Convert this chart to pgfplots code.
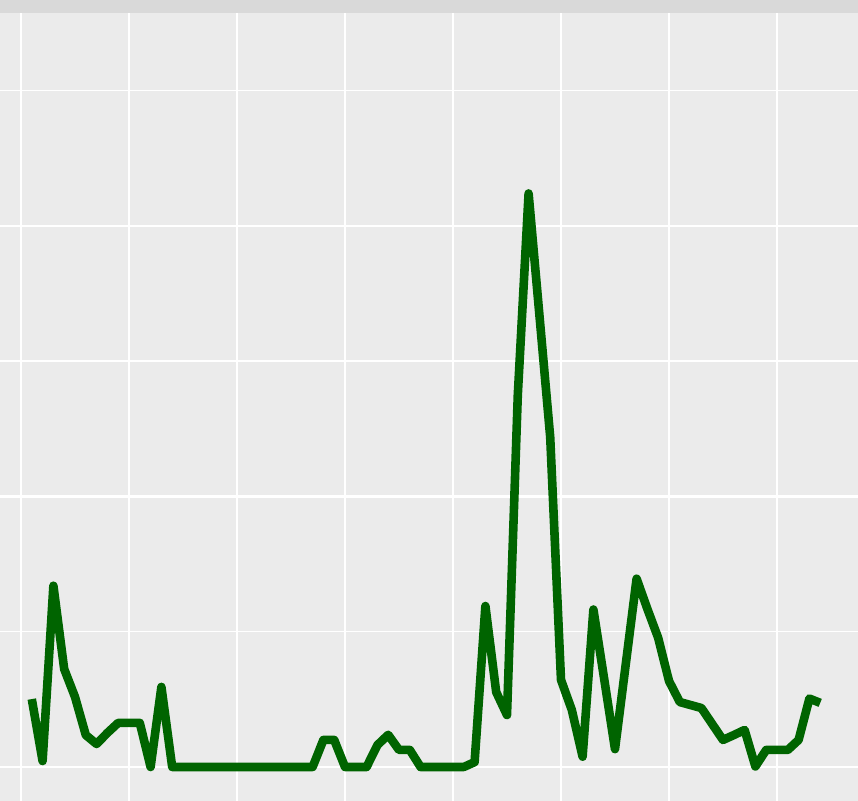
\documentclass[border=0pt]{standalone}
\usepackage{pgfplots}
\pgfplotsset{compat=1.18}
\definecolor{panelbg}{HTML}{EBEBEB}
\definecolor{stripbg}{HTML}{D9D9D9}
\definecolor{lineg}{HTML}{006400}
\begin{document}
\begin{tikzpicture}
\begin{axis}[
  scale only axis, width=429bp, height=394bp,
  xmin=-1.944, xmax=77.5, ymin=-12.57, ymax=278.7,
  axis background/.style={fill=panelbg},
  axis line style={draw=none},
  xtick={0,20,40,60}, minor xtick={10,30,50,70},
  ytick={0,100,200}, minor ytick={50,150,250},
  xticklabels={}, yticklabels={},
  major tick length=0pt, minor tick length=0pt,
  grid=both,
  major grid style={white, line width=1.4bp},
  minor grid style={white, line width=0.7bp},
]
\addplot[lineg, line width=4.3bp, line join=round, mark=none] coordinates {
(1,25.1) (2,2.2) (3,67.0) (4,36.2) (5,25.9) (6,11.8) (7,8.5) (8,12.6) (9,16.3) (10,16.3)
(11,16.3) (12,0) (13,29.6) (14,0) (15,0) (16,0) (17,0) (18,0) (19,0) (20,0)
(21,0) (22,0) (23,0) (24,0) (25,0) (26,0) (27,0) (28,10.0) (29,10.0) (30,0)
(31,0) (32,0) (33,8.1) (34,11.9) (35,6.3) (36,6.3) (37,0) (38,0) (39,0) (40,0)
(41,0) (42,1.8) (43,59.5) (44,27.7) (45,19.2) (46,137.5) (47,212.0) (48,167.1) (49,122.0) (50,32.2)
(51,21.1) (52,3.8) (53,58.2) (54,32.5) (55,6.6) (56,38.1) (57,69.6) (58,58.4) (59,47.7) (60,31.8)
(61,24.0) (62,22.9) (63,21.8) (64,15.9) (65,10.0) (66,11.8) (67,13.7) (68,0.2) (69,6.3) (70,6.3)
(71,6.3) (72,10.0) (73,25.3) (74,23.7)
};
\end{axis}
\fill[stripbg] (current axis.north west) rectangle ([yshift=6.5bp]current axis.north east);
\pgfresetboundingbox
\useasboundingbox (current axis.south west) rectangle ([yshift=6.5bp]current axis.north east);
\end{tikzpicture}
\end{document}
